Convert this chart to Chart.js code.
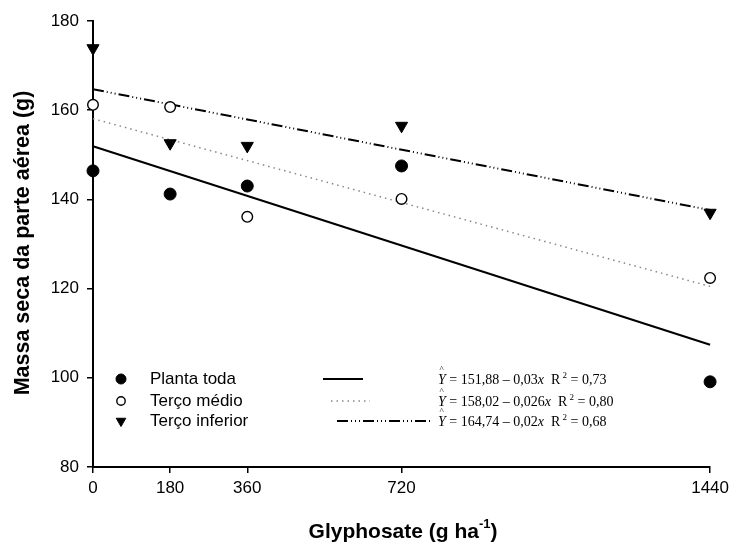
<!DOCTYPE html>
<html>
<head>
<meta charset="utf-8">
<script src="https://cdn.jsdelivr.net/npm/chart.js@4"></script>
<style>
  html, body { margin: 0; padding: 0; background: #fff; }
  #wrap { width: 734px; height: 542px; }
</style>
</head>
<body>
<div id="wrap"><canvas id="massaChart" width="734" height="542"></canvas></div>
<script>
// Data
const doses = [0, 180, 360, 720, 1440];
const plantaToda = [146.4, 141.2, 143.0, 147.5, 99.1];
const tercoMedio = [161.2, 160.7, 136.1, 140.1, 122.4];
const tercoInferior = [173.9, 152.6, 152.0, 156.5, 137.0];

// fitted lines, start and end of dose range
const fitX = [0, 1440];
const fitToda = [151.9, 107.4];
const fitMedio = [158.1, 120.5];
const fitInferior = [164.7, 137.6];

const seriesNames = ['Planta toda', 'Terço médio', 'Terço inferior'];
const equations = [
    ['151,88', '0,03', '0,73'],
    ['158,02', '0,026', '0,80'],
    ['164,74', '0,02', '0,68']
];
const yTicks = [80, 100, 120, 140, 160, 180];

const sans = "Arial, 'Liberation Sans', sans-serif";
const serif = "'Times New Roman', 'Liberation Serif', serif";

function pts(xs, ys) {
    return xs.map((x, i) => ({ x: x, y: ys[i] }));
}

const dashDot = [11, 3, 1, 3, 1, 3, 1, 3];

// custom legend + x title (with superscript) + y title
const extras = {
    id: 'extras',
    afterDraw(chart) {
        const ctx = chart.ctx;
        ctx.save();
        ctx.fillStyle = '#000';

        // y title
        ctx.save();
        ctx.translate(23, 243);
        ctx.rotate(-Math.PI / 2);
        ctx.font = 'bold 21.5px ' + sans;
        ctx.textAlign = 'center';
        ctx.textBaseline = 'middle';
        ctx.fillText('Massa seca da parte aérea (g)', 0, 0);
        ctx.restore();

        // x title
        ctx.textBaseline = 'alphabetic';
        ctx.textAlign = 'left';
        const main = 'Glyphosate (g ha';
        const sup = '-1';
        ctx.font = 'bold 21px ' + sans;
        const w1 = ctx.measureText(main).width;
        ctx.font = 'bold 13px ' + sans;
        const w2 = ctx.measureText(sup).width;
        ctx.font = 'bold 21px ' + sans;
        const w3 = ctx.measureText(')').width;
        let x0 = 403 - (w1 + w2 + w3) / 2;
        const base = 538;
        ctx.fillText(main, x0, base);
        ctx.font = 'bold 13px ' + sans;
        ctx.fillText(sup, x0 + w1, base - 10);
        ctx.font = 'bold 21px ' + sans;
        ctx.fillText(')', x0 + w1 + w2, base);

        // legend
        const rows = [379, 401, 421];
        const markerDs = [0, 1, 2];
        const lineDs = [3, 4, 5];
        const lineStarts = [323, 331, 337];
        const lineEnds = [363, 370, 433];
        const markerSize = [5, 4.2, 5.5];
        rows.forEach((ry, i) => {
            const ds = chart.data.datasets[markerDs[i]];
            ctx.fillStyle = ds.backgroundColor;
            ctx.strokeStyle = ds.borderColor;
            ctx.lineWidth = ds.borderWidth;
            Chart.helpers.drawPoint(ctx, {
                pointStyle: ds.pointStyle,
                radius: markerSize[i],
                rotation: ds.rotation || 0,
                borderWidth: ds.borderWidth
            }, 121, ry);

            ctx.fillStyle = '#000';
            ctx.font = '17px ' + sans;
            ctx.textAlign = 'left';
            ctx.textBaseline = 'middle';
            ctx.fillText(seriesNames[i], 150, ry);

            const lds = chart.data.datasets[lineDs[i]];
            ctx.beginPath();
            ctx.setLineDash(lds.borderDash || []);
            ctx.strokeStyle = lds.borderColor;
            ctx.lineWidth = lds.borderWidth;
            ctx.moveTo(lineStarts[i], ry);
            ctx.lineTo(lineEnds[i], ry);
            ctx.stroke();
            ctx.setLineDash([]);

            // equation
            const eq = equations[i];
            const ey = ry + 5;
            let ex = 438;
            ctx.fillStyle = '#000';
            ctx.textBaseline = 'alphabetic';
            ctx.font = 'italic 14px ' + serif;
            ctx.fillText('Y', ex, ey);
            ctx.font = '9px ' + serif;
            ctx.fillText('^', ex + 1.5, ey - 12);
            ctx.font = 'italic 14px ' + serif;
            ex += ctx.measureText('Y').width;
            ctx.font = '14px ' + serif;
            const part1 = ' = ' + eq[0] + ' \u2013 ' + eq[1];
            ctx.fillText(part1, ex, ey);
            ex += ctx.measureText(part1).width;
            ctx.font = 'italic 14px ' + serif;
            ctx.fillText('x', ex, ey);
            ex += ctx.measureText('x').width;
            ctx.font = '14px ' + serif;
            ctx.fillText('  R', ex, ey);
            ex += ctx.measureText('  R').width;
            ctx.font = '9px ' + serif;
            ctx.fillText(' 2', ex, ey - 6);
            ex += ctx.measureText(' 2').width;
            ctx.font = '14px ' + serif;
            ctx.fillText(' = ' + eq[2], ex, ey);
        });
        ctx.restore();
    }
};

const ctxMassa = document.getElementById('massaChart').getContext('2d');
const massaChart = new Chart(ctxMassa, {
    type: 'scatter',
    data: {
        datasets: [{
            label: seriesNames[0],
            data: pts(doses, plantaToda),
            pointStyle: 'circle',
            pointRadius: 6,
            backgroundColor: '#000',
            borderColor: '#000',
            borderWidth: 1,
            clip: false,
        }, {
            label: seriesNames[1],
            data: pts(doses, tercoMedio),
            pointStyle: 'circle',
            pointRadius: 5.3,
            backgroundColor: '#fff',
            borderColor: '#000',
            borderWidth: 1.4,
            clip: false,
        }, {
            label: seriesNames[2],
            data: pts(doses, tercoInferior),
            pointStyle: 'triangle',
            pointRadius: 7,
            rotation: 180,
            backgroundColor: '#000',
            borderColor: '#000',
            borderWidth: 1,
            clip: false,
        }, {
            label: 'fit toda',
            data: pts(fitX, fitToda),
            showLine: true,
            pointRadius: 0,
            borderColor: '#000',
            borderWidth: 2,
            clip: false,
        }, {
            label: 'fit medio',
            data: pts(fitX, fitMedio),
            showLine: true,
            pointRadius: 0,
            borderColor: '#888',
            borderWidth: 1.5,
            borderDash: [1.5, 4],
            clip: false,
        }, {
            label: 'fit inferior',
            data: pts(fitX, fitInferior),
            showLine: true,
            pointRadius: 0,
            borderColor: '#000',
            borderWidth: 2,
            borderDash: dashDot,
            clip: false,
        }]
    },
    options: {
        responsive: false,
        animation: false,
        layout: {
            padding: { left: 0, top: 21, right: 21, bottom: 0 },
        },
        scales: {
            x: {
                type: 'linear',
                min: 0,
                max: 1440,
                afterBuildTicks: (scale) => {
                    scale.ticks = doses.map(v => ({ value: v }));
                },
                afterFit: (scale) => {
                    scale.height = 75;
                },
                grid: {
                    drawOnChartArea: false,
                    color: '#000',
                    tickLength: 6,
                    lineWidth: 1.5,
                },
                border: {
                    color: '#000',
                    width: 2,
                },
                ticks: {
                    color: '#000',
                    padding: 5,
                    maxRotation: 0,
                    font: { family: sans, size: 17 },
                    callback: (v) => String(v),
                },
            },
            y: {
                min: 80,
                max: 180,
                afterBuildTicks: (scale) => {
                    scale.ticks = yTicks.map(v => ({ value: v }));
                },
                afterFit: (scale) => {
                    scale.width = 93;
                },
                grid: {
                    drawOnChartArea: false,
                    color: '#000',
                    tickLength: 6,
                    lineWidth: 1.5,
                },
                border: {
                    color: '#000',
                    width: 2,
                },
                ticks: {
                    color: '#000',
                    padding: 8,
                    font: { family: sans, size: 17 },
                    callback: (v) => String(v),
                },
            },
        },
        plugins: {
            legend: {
                display: false,
            },
            tooltip: {
                enabled: false,
            },
        },
    },
    plugins: [extras],
});
</script>
</body>
</html>
